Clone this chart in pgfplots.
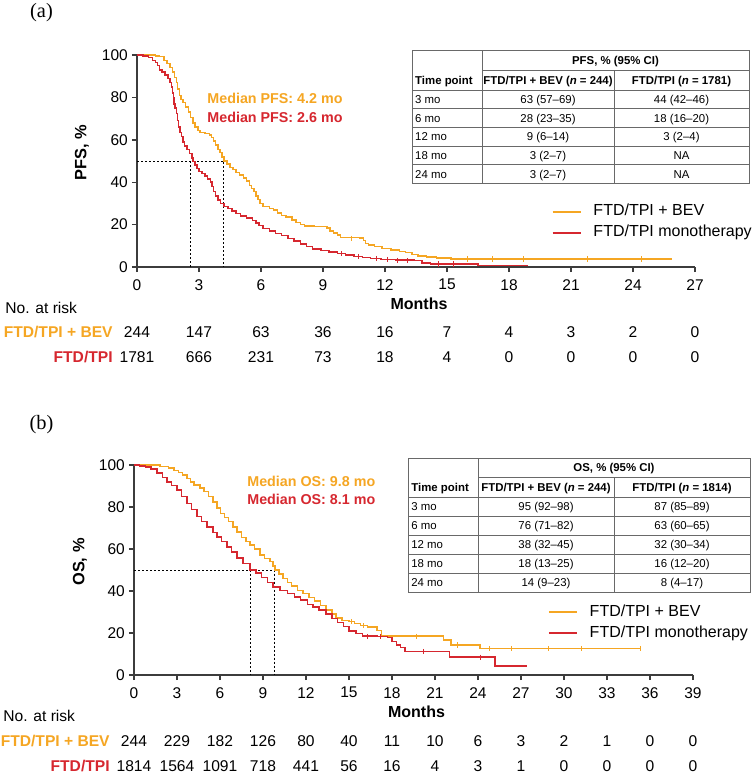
\documentclass[border=0pt]{standalone}
\usepackage{fontspec}
\setmainfont{Liberation Sans}
\newfontfamily\seriffont{Liberation Serif}
\usepackage{pgfplots}
\pgfplotsset{compat=1.18}
\definecolor{bev}{RGB}{245,166,35}
\definecolor{tpi}{RGB}{214,39,47}
\definecolor{axgray}{RGB}{60,60,60}
\definecolor{tabgray}{RGB}{105,105,105}

\begin{document}
\begin{tikzpicture}[
  num/.style={font=\fontsize{7.8bp}{9bp}\selectfont, inner sep=0pt, anchor=center, text height=5.6bp, text depth=0pt},
  tab/.style={font=\fontsize{5.7bp}{7bp}\selectfont, inner sep=0pt, text height=4.1bp, text depth=0pt},
  tabb/.style={tab, font=\fontsize{5.7bp}{7bp}\selectfont\bfseries},
]
\path[use as bounding box] (0,0) rectangle (378bp,-387bp);

\pgfplotsset{
  km/.style={
    scale only axis, width=279bp, height=106bp,
    axis x line*=bottom, axis y line*=left,
    axis line style={axgray, line width=0.7bp},
    tick style={axgray, line width=0.7bp},
    tick align=outside, major tick length=2.6bp,
    ymin=0, ymax=100, ytick={0,20,...,100},
    ticklabel style={font=\fontsize{7.75bp}{9bp}\selectfont},
    yticklabel style={inner sep=1.8bp},
    /pgf/number format/assume math mode=true,
    clip=false,
    legend style={draw=none, fill=none, inner sep=0pt, outer sep=0pt,
      font=\fontsize{8bp}{9bp}\selectfont,
      nodes={inner sep=0pt, text height=5.6bp, text depth=1.6bp},
      row sep=3.3bp, column sep=6bp},
    legend cell align=left,
    legend image code/.code={\draw[##1, line width=0.75bp] (0bp,0bp) -- (14bp,0bp);},
  },
  dotl/.style={forget plot, black, line width=0.5bp, dash pattern=on 1bp off 1bp},
  cens/.style={forget plot, only marks, mark=|, mark size=1.3bp, mark options={line width=0.45bp}},
}

% ---------------- Panel (a) ----------------
\node[font=\seriffont\fontsize{10.2bp}{12bp}\selectfont, inner sep=0pt] at (20.75bp,-6.5bp) {(a)};

\begin{axis}[km, at={(68.5bp,-133.5bp)}, anchor=south west,
  xmin=0, xmax=27, xtick={0,3,...,27},
  legend style={at={(axis cs:20.08,21)}, anchor=west}]
\addplot[dotl] coordinates {(0,50) (4.2,50) (4.2,0)};
\addplot[dotl] coordinates {(2.6,50) (2.6,0)};
\addplot[const plot, bev, line width=0.75bp] coordinates {
(0,100) (0.5,100) (0.9,99.6) (1.1,99.2) (1.3,97.5) (1.45,96) (1.6,94) (1.72,92)
(1.82,89.5) (1.9,87) (1.97,84) (2.05,81) (2.12,79) (2.22,77.5) (2.35,75.5) (2.5,73)
(2.6,70.5) (2.7,68) (2.8,66) (2.95,64.5) (3.05,63.5) (3.3,63) (3.5,62.3) (3.6,61)
(3.7,59.5) (3.8,57.5) (3.92,55.5) (4.02,54) (4.12,52) (4.22,50) (4.35,48.5) (4.5,47)
(4.65,46) (4.8,44.5) (4.95,43.5) (5.15,42) (5.3,40.5) (5.45,38.5) (5.55,37) (5.65,35.5)
(5.75,33.5) (5.85,31.8) (5.95,30) (6.1,28.5) (6.4,27.5) (6.6,26.8) (6.8,25.5) (7.0,24.2)
(7.2,23.5) (7.5,22.2) (7.7,21) (7.9,20) (8.1,19.3) (8.6,19) (9.2,18.5) (9.35,17)
(9.5,16) (9.7,15) (9.85,14) (10.8,13.6) (10.95,12.5) (11.05,11) (11.2,10.3) (11.5,9.6)
(11.85,8.8) (12.3,8) (12.7,7.4) (13.0,6.8) (13.3,6) (13.6,5.3) (14.0,4.8) (14.5,4.3)
(15.2,3.8) (25.9,3.8)};
\addlegendentry{FTD/TPI + BEV}
\addplot[const plot, tpi, line width=0.75bp] coordinates {
(0,100) (0.3,99.5) (0.55,98.8) (0.75,97.5) (0.9,96.5) (1.0,95) (1.1,93) (1.2,92)
(1.35,90.5) (1.5,89) (1.6,87) (1.68,85) (1.72,82) (1.76,80) (1.8,77) (1.85,75)
(1.9,72.5) (1.96,69) (2.02,66) (2.08,63.5) (2.15,61.5) (2.22,59) (2.3,57) (2.42,55.5)
(2.55,53.5) (2.65,51.5) (2.72,49.7) (2.8,48) (2.9,46.5) (3.0,45) (3.15,44) (3.3,43)
(3.42,41.5) (3.55,40) (3.62,38) (3.7,35.5) (3.8,33.5) (3.92,31.5) (4.05,30) (4.2,28.5)
(4.4,27.5) (4.6,26.5) (4.8,25.2) (5.0,24) (5.3,23) (5.6,22) (5.75,20.8) (5.9,19.5)
(6.1,18.2) (6.4,17) (6.7,15.8) (7.0,14.8) (7.3,13.5) (7.6,12.3) (7.9,10.8) (8.2,9.7)
(8.5,8.6) (8.9,7.8) (9.3,7) (9.7,6.3) (10.1,5.6) (10.5,5) (10.9,4.4) (11.3,4)
(11.8,3.5) (12.5,3.2) (13.4,3.0) (13.8,2.0) (14.2,1.4) (16.4,1.4) (16.5,0.6) (18.9,0.6)};
\addlegendentry{FTD/TPI monotherapy}
\addplot[cens, bev] coordinates {(10.4,13.6) (16,3.8) (17.2,3.8) (18.7,3.8) (21.8,3.8) (24.4,3.8)};
\addplot[cens, tpi] coordinates {(9.9,6.3) (10.7,5) (11.6,4) (12.1,3.5) (12.6,3.2) (13.1,3.0) (14.6,1.4) (15.3,1.4)};

% texts
\node[anchor=center, font=\fontsize{8bp}{9bp}\selectfont\bfseries, inner sep=0pt] at ([xshift=1.5bp,yshift=-18.5bp]axis cs:13.5,0) {Months};
\node[rotate=90, font=\fontsize{8.2bp}{9bp}\selectfont\bfseries, inner sep=0pt] at ([xshift=-27.5bp,yshift=4bp]axis cs:0,50) {PFS, \%};
\node[anchor=west, font=\fontsize{7.15bp}{8bp}\selectfont\bfseries, text=bev, inner sep=0pt] at (axis cs:3.39,79.7) {Median PFS: 4.2 mo};
\node[anchor=west, font=\fontsize{7.15bp}{8bp}\selectfont\bfseries, text=tpi, inner sep=0pt] at (axis cs:3.39,70.8) {Median PFS: 2.6 mo};

% number at risk
\node[num, anchor=east, font=\fontsize{7.8bp}{9bp}\selectfont\bfseries, text=bev] at ([xshift=-12bp,yshift=-32.5bp]axis cs:0,0) {FTD/TPI + BEV};
\node[num, anchor=east, font=\fontsize{7.8bp}{9bp}\selectfont\bfseries, text=tpi] at ([xshift=-12bp,yshift=-45bp]axis cs:0,0) {FTD/TPI};
\node[num] at ([yshift=-32.5bp]axis cs:0,0) {244};
\node[num] at ([yshift=-32.5bp]axis cs:3,0) {147};
\node[num] at ([yshift=-32.5bp]axis cs:6,0) {63};
\node[num] at ([yshift=-32.5bp]axis cs:9,0) {36};
\node[num] at ([yshift=-32.5bp]axis cs:12,0) {16};
\node[num] at ([yshift=-32.5bp]axis cs:15,0) {7};
\node[num] at ([yshift=-32.5bp]axis cs:18,0) {4};
\node[num] at ([yshift=-32.5bp]axis cs:21,0) {3};
\node[num] at ([yshift=-32.5bp]axis cs:24,0) {2};
\node[num] at ([yshift=-32.5bp]axis cs:27,0) {0};
\node[num] at ([yshift=-45bp]axis cs:0,0) {1781};
\node[num] at ([yshift=-45bp]axis cs:3,0) {666};
\node[num] at ([yshift=-45bp]axis cs:6,0) {231};
\node[num] at ([yshift=-45bp]axis cs:9,0) {73};
\node[num] at ([yshift=-45bp]axis cs:12,0) {18};
\node[num] at ([yshift=-45bp]axis cs:15,0) {4};
\node[num] at ([yshift=-45bp]axis cs:18,0) {0};
\node[num] at ([yshift=-45bp]axis cs:21,0) {0};
\node[num] at ([yshift=-45bp]axis cs:24,0) {0};
\node[num] at ([yshift=-45bp]axis cs:27,0) {0};
\end{axis}
\node[num, anchor=west] at (2.5bp,-154bp) {No. at risk};

% table (a)
\begin{scope}[tabgray, line width=0.5bp]
\draw (206bp,-25bp) rectangle (374.5bp,-91.67bp);
\draw (241bp,-25bp) -- (241bp,-91.67bp);
\draw (307bp,-35bp) -- (307bp,-91.67bp);
\draw (241bp,-35bp) -- (374.5bp,-35bp);
\foreach \y in {-45,-54.33,-63.67,-73,-82.33} \draw (206bp,\y bp) -- (374.5bp,\y bp);
\end{scope}
\node[tabb] at (307.75bp,-30bp) {PFS, \% (95\% CI)};
\node[tabb, anchor=west] at (207.4bp,-40bp) {Time point};
\node[tabb] at (274bp,-40bp) {FTD/TPI + BEV (\textit{n} = 244)};
\node[tabb] at (340.75bp,-40bp) {FTD/TPI (\textit{n} = 1781)};
\node[tab, anchor=west] at (207.4bp,-49.67bp) {3 mo};
\node[tab, anchor=west] at (207.4bp,-59bp) {6 mo};
\node[tab, anchor=west] at (207.4bp,-68.33bp) {12 mo};
\node[tab, anchor=west] at (207.4bp,-77.67bp) {18 mo};
\node[tab, anchor=west] at (207.4bp,-87bp) {24 mo};
\node[tab] at (274bp,-49.67bp) {63 (57--69)};
\node[tab] at (274bp,-59bp) {28 (23--35)};
\node[tab] at (274bp,-68.33bp) {9 (6--14)};
\node[tab] at (274bp,-77.67bp) {3 (2--7)};
\node[tab] at (274bp,-87bp) {3 (2--7)};
\node[tab] at (340.75bp,-49.67bp) {44 (42--46)};
\node[tab] at (340.75bp,-59bp) {18 (16--20)};
\node[tab] at (340.75bp,-68.33bp) {3 (2--4)};
\node[tab] at (340.75bp,-77.67bp) {NA};
\node[tab] at (340.75bp,-87bp) {NA};

% ---------------- Panel (b) ----------------
\node[font=\seriffont\fontsize{10.2bp}{12bp}\selectfont, inner sep=0pt] at (20.75bp,-212.5bp) {(b)};

\begin{axis}[km, at={(67bp,-337.5bp)}, anchor=south west, width=279.5bp, height=105bp,
  xmin=0, xmax=39, xtick={0,3,...,39},
  legend style={at={(axis cs:28.9,25)}, anchor=west}]
\addplot[dotl] coordinates {(0,50) (9.8,50) (9.8,0)};
\addplot[dotl] coordinates {(8.1,50) (8.1,0)};
\addplot[const plot, bev, line width=0.75bp] coordinates {
(0,100) (1.0,100) (1.8,99.3) (2.4,98.5) (2.8,97.5) (3.1,96.5) (3.4,95.3) (3.7,93.5)
(3.95,92) (4.2,90.5) (4.6,89) (4.9,87.5) (5.2,85) (5.5,82.5) (5.8,79.5) (6.05,77)
(6.3,75) (6.6,73) (6.9,70.5) (7.2,68) (7.5,65.5) (7.8,63.5) (8.1,62) (8.4,60)
(8.8,57.2) (9.1,55.5) (9.5,54) (9.7,52) (9.85,50) (10.1,48) (10.4,46) (10.7,44)
(11.0,42.3) (11.4,40.2) (11.8,38.8) (12.2,37) (12.6,35.2) (13.0,33.2) (13.4,31) (13.8,29)
(14.1,27.2) (14.5,26) (15.0,25.5) (15.4,24.5) (15.8,23.5) (16.3,22.8) (16.95,21.2) (17.25,18.5)
(21.5,18.5) (21.6,16.6) (22.1,14.3) (24.1,14.3) (24.15,12.6) (35.3,12.6)};
\addlegendentry{FTD/TPI + BEV}
\addplot[const plot, tpi, line width=0.75bp] coordinates {
(0,100) (0.4,99.6) (0.8,99) (1.2,98) (1.6,96.3) (2.0,94) (2.3,92) (2.6,90.2)
(3.0,88) (3.3,85) (3.7,81.7) (4.0,78.7) (4.4,75.4) (4.7,73) (5.1,70.5) (5.5,67.8)
(5.8,65.8) (6.1,63.5) (6.5,61) (6.8,58.5) (7.2,55.6) (7.6,53) (8.1,50) (8.5,48.5)
(8.9,46.5) (9.3,44) (9.7,42) (10.2,40.3) (10.7,38.8) (11.2,37.2) (11.6,35.7) (12.1,33.5)
(12.5,32.3) (12.9,31) (13.4,29) (13.8,27) (14.2,25) (14.6,23) (15.0,21) (15.5,19.8)
(15.95,18.5) (17.0,18.3) (17.7,17.8) (18.0,16) (18.3,14.3) (18.6,13) (18.9,11.2) (21.9,11.2)
(22.0,8.5) (25.1,8.5) (25.2,4.2) (27.4,4.2)};
\addlegendentry{FTD/TPI monotherapy}
\addplot[cens, bev] coordinates {(15.2,25.5) (16.0,23.5) (19.7,18.5) (22.6,14.3) (24.8,12.6) (26.3,12.6) (28.9,12.6) (31.2,12.6) (35.3,12.6)};
\addplot[cens, tpi] coordinates {(16.3,18.5) (17.2,18.3) (20.2,11.2) (24.2,8.5)};

% texts
\node[anchor=center, font=\fontsize{8bp}{9bp}\selectfont\bfseries, inner sep=0pt] at ([xshift=1.5bp,yshift=-18.5bp]axis cs:19.5,0) {Months};
\node[rotate=90, font=\fontsize{8.2bp}{9bp}\selectfont\bfseries, inner sep=0pt] at ([xshift=-27bp,yshift=4bp]axis cs:0,50) {OS, \%};
\node[anchor=west, font=\fontsize{7.15bp}{8bp}\selectfont\bfseries, text=bev, inner sep=0pt] at (axis cs:7.88,92.4) {Median OS: 9.8 mo};
\node[anchor=west, font=\fontsize{7.15bp}{8bp}\selectfont\bfseries, text=tpi, inner sep=0pt] at (axis cs:7.88,83.8) {Median OS: 8.1 mo};

% number at risk
\node[num, anchor=east, font=\fontsize{7.8bp}{9bp}\selectfont\bfseries, text=bev] at ([xshift=-12bp,yshift=-33bp]axis cs:0,0) {FTD/TPI + BEV};
\node[num, anchor=east, font=\fontsize{7.8bp}{9bp}\selectfont\bfseries, text=tpi] at ([xshift=-12bp,yshift=-45.5bp]axis cs:0,0) {FTD/TPI};
\node[num] at ([yshift=-33bp]axis cs:0,0) {244};
\node[num] at ([yshift=-33bp]axis cs:3,0) {229};
\node[num] at ([yshift=-33bp]axis cs:6,0) {182};
\node[num] at ([yshift=-33bp]axis cs:9,0) {126};
\node[num] at ([yshift=-33bp]axis cs:12,0) {80};
\node[num] at ([yshift=-33bp]axis cs:15,0) {40};
\node[num] at ([yshift=-33bp]axis cs:18,0) {11};
\node[num] at ([yshift=-33bp]axis cs:21,0) {10};
\node[num] at ([yshift=-33bp]axis cs:24,0) {6};
\node[num] at ([yshift=-33bp]axis cs:27,0) {3};
\node[num] at ([yshift=-33bp]axis cs:30,0) {2};
\node[num] at ([yshift=-33bp]axis cs:33,0) {1};
\node[num] at ([yshift=-33bp]axis cs:36,0) {0};
\node[num] at ([yshift=-33bp]axis cs:39,0) {0};
\node[num] at ([yshift=-45.5bp]axis cs:0,0) {1814};
\node[num] at ([yshift=-45.5bp]axis cs:3,0) {1564};
\node[num] at ([yshift=-45.5bp]axis cs:6,0) {1091};
\node[num] at ([yshift=-45.5bp]axis cs:9,0) {718};
\node[num] at ([yshift=-45.5bp]axis cs:12,0) {441};
\node[num] at ([yshift=-45.5bp]axis cs:15,0) {56};
\node[num] at ([yshift=-45.5bp]axis cs:18,0) {16};
\node[num] at ([yshift=-45.5bp]axis cs:21,0) {4};
\node[num] at ([yshift=-45.5bp]axis cs:24,0) {3};
\node[num] at ([yshift=-45.5bp]axis cs:27,0) {1};
\node[num] at ([yshift=-45.5bp]axis cs:30,0) {0};
\node[num] at ([yshift=-45.5bp]axis cs:33,0) {0};
\node[num] at ([yshift=-45.5bp]axis cs:36,0) {0};
\node[num] at ([yshift=-45.5bp]axis cs:39,0) {0};
\end{axis}
\node[num, anchor=west] at (1.5bp,-358bp) {No. at risk};

% table (b)
\begin{scope}[tabgray, line width=0.5bp]
\draw (204bp,-229bp) rectangle (375bp,-296bp);
\draw (239bp,-229bp) -- (239bp,-296bp);
\draw (307bp,-238.85bp) -- (307bp,-296bp);
\draw (239bp,-238.85bp) -- (375bp,-238.85bp);
\foreach \y in {-248.5,-258,-267.5,-277,-286.5} \draw (204bp,\y bp) -- (375bp,\y bp);
\end{scope}
\node[tabb] at (307bp,-233.9bp) {OS, \% (95\% CI)};
\node[tabb, anchor=west] at (205.5bp,-243.7bp) {Time point};
\node[tabb] at (273bp,-243.7bp) {FTD/TPI + BEV (\textit{n} = 244)};
\node[tabb] at (341bp,-243.7bp) {FTD/TPI (\textit{n} = 1814)};
\node[tab, anchor=west] at (205.5bp,-253.25bp) {3 mo};
\node[tab, anchor=west] at (205.5bp,-262.75bp) {6 mo};
\node[tab, anchor=west] at (205.5bp,-272.25bp) {12 mo};
\node[tab, anchor=west] at (205.5bp,-281.75bp) {18 mo};
\node[tab, anchor=west] at (205.5bp,-291.25bp) {24 mo};
\node[tab] at (273bp,-253.25bp) {95 (92--98)};
\node[tab] at (273bp,-262.75bp) {76 (71--82)};
\node[tab] at (273bp,-272.25bp) {38 (32--45)};
\node[tab] at (273bp,-281.75bp) {18 (13--25)};
\node[tab] at (273bp,-291.25bp) {14 (9--23)};
\node[tab] at (341bp,-253.25bp) {87 (85--89)};
\node[tab] at (341bp,-262.75bp) {63 (60--65)};
\node[tab] at (341bp,-272.25bp) {32 (30--34)};
\node[tab] at (341bp,-281.75bp) {16 (12--20)};
\node[tab] at (341bp,-291.25bp) {8 (4--17)};
\end{tikzpicture}
\end{document}
